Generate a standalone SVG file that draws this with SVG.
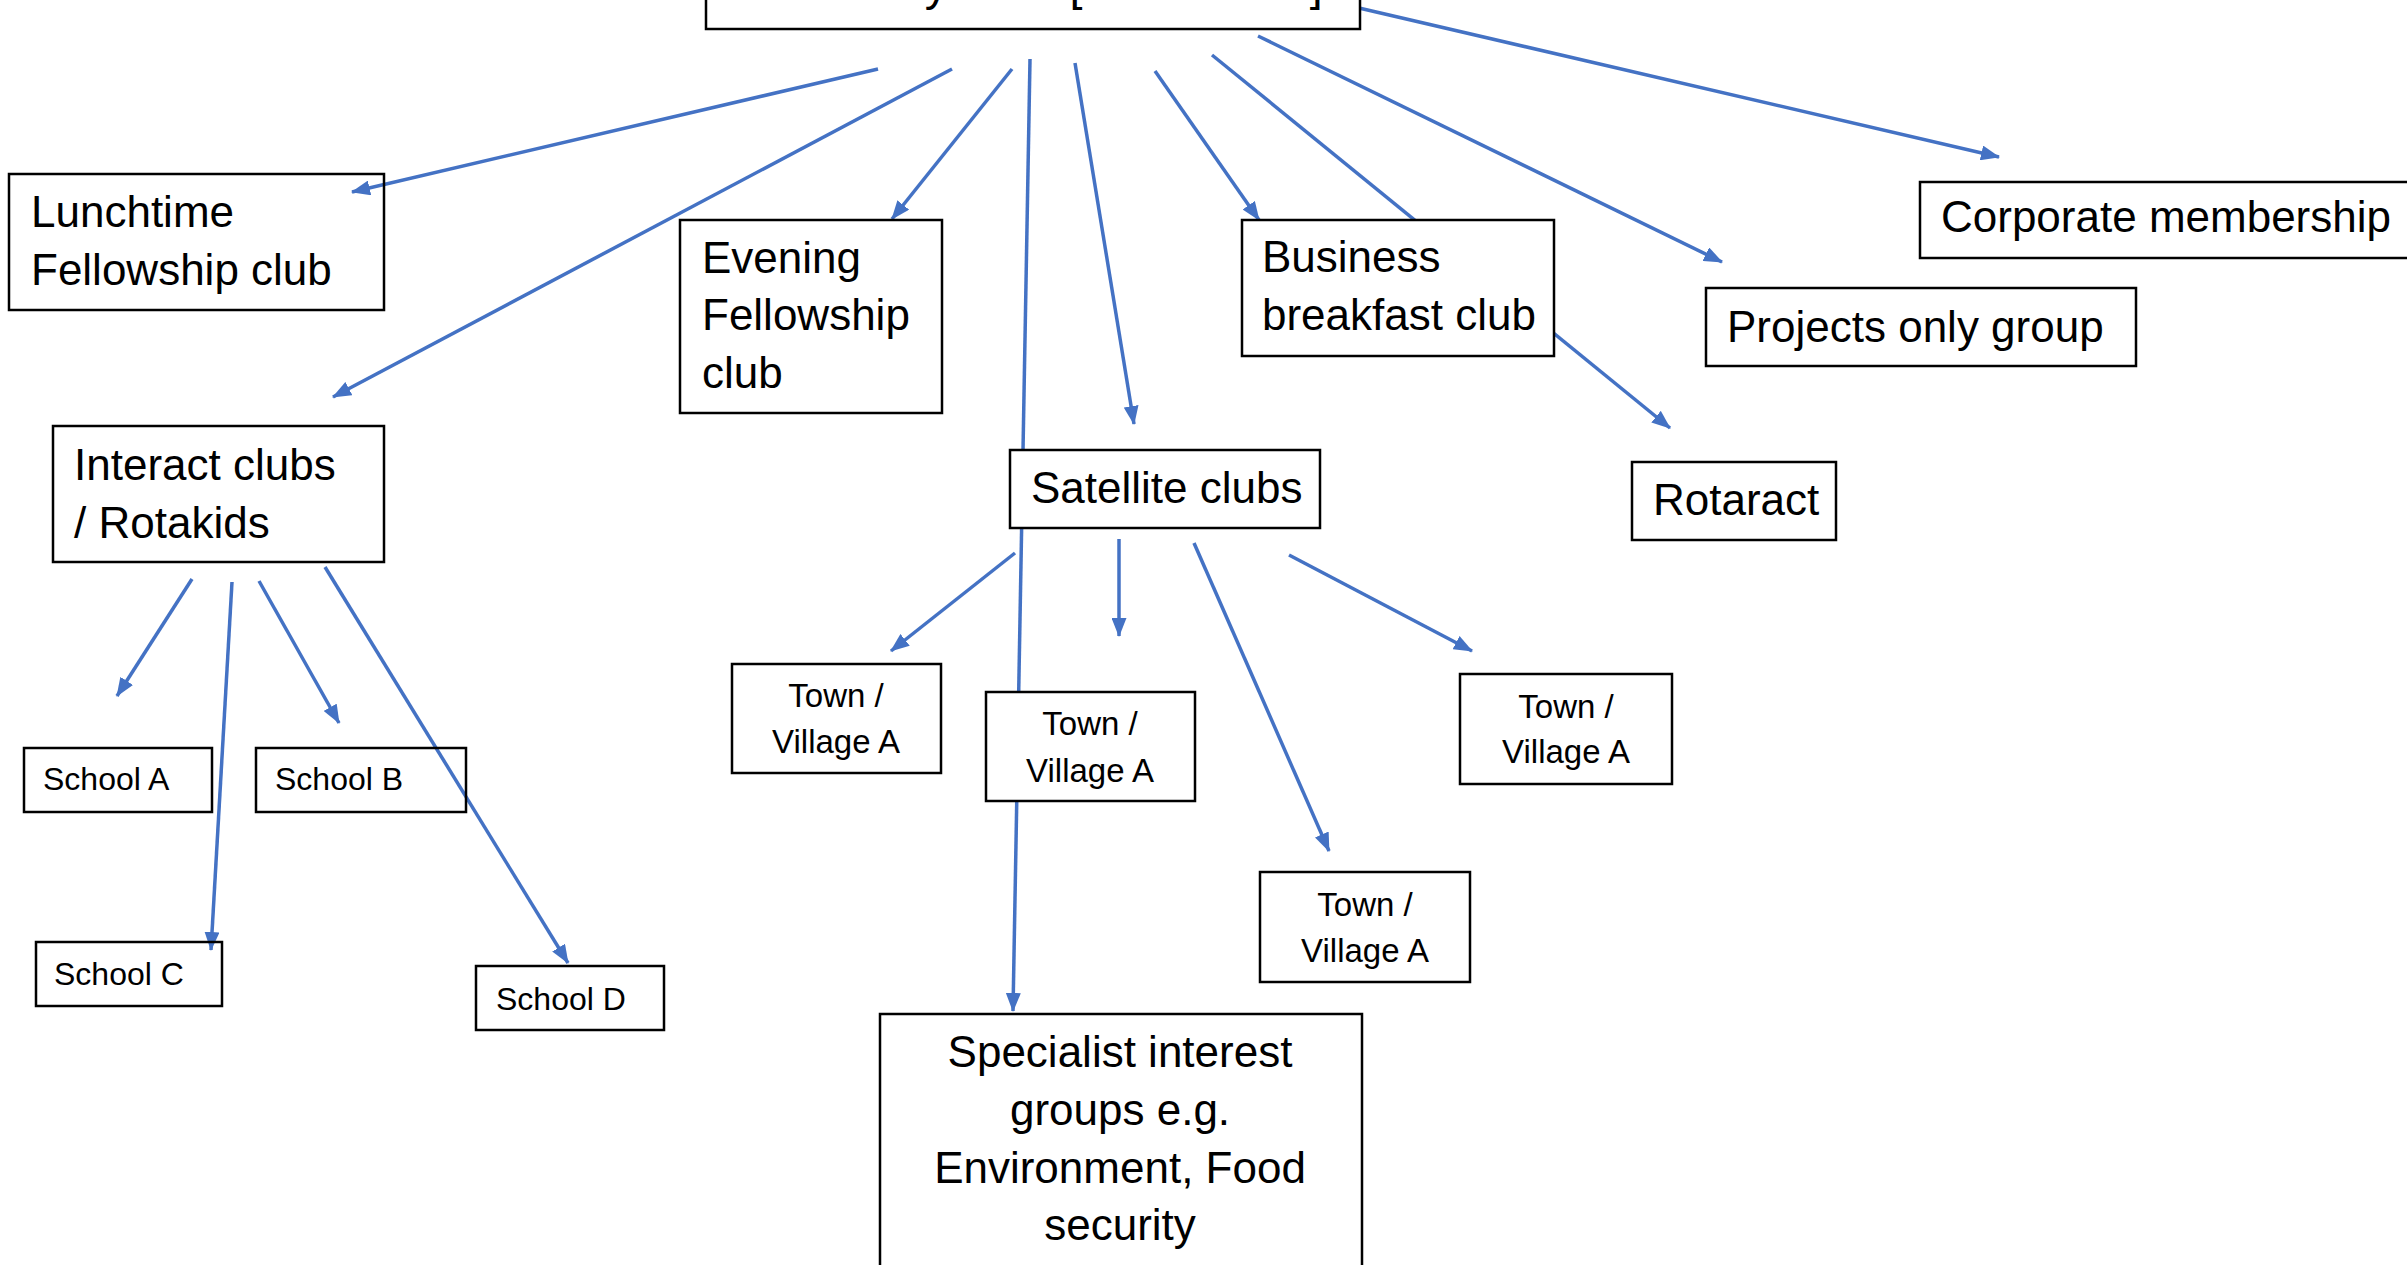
<svg xmlns="http://www.w3.org/2000/svg" width="2407" height="1265" viewBox="0 0 2407 1265">
<style>
.bg{fill:#ffffff}
.box{fill:#ffffff;stroke:#000000;stroke-width:2.5}
.clear{fill:none}
.t{font-family:"Liberation Sans",Arial,sans-serif;font-size:44px;fill:#000000}
.s{font-size:33px}
.sc{font-size:32px}
.mid{text-anchor:middle}
.c{stroke:#4472C4;stroke-width:3.5;fill:none;marker-end:url(#ah)}
</style>
<defs>
<marker id="ah" markerUnits="userSpaceOnUse" markerWidth="19" markerHeight="15" refX="18" refY="7.5" orient="auto">
<path d="M0,0 L19,7.5 L0,15 Z" fill="#4472C4"/>
</marker>
</defs>
<rect class="bg" x="0" y="0" width="2407" height="1265"/>
<g id="connectors">
<line class="c" x1="878" y1="69" x2="352" y2="192"/>
<line class="c" x1="952" y1="69" x2="333" y2="397"/>
<line class="c" x1="1012" y1="69" x2="892" y2="219"/>
<line class="c" x1="1030" y1="59" x2="1013" y2="1011"/>
<line class="c" x1="1075" y1="63" x2="1134" y2="424"/>
<line class="c" x1="1155" y1="71" x2="1259" y2="220"/>
<line class="c" x1="1212" y1="55" x2="1670" y2="428"/>
<line class="c" x1="1258" y1="36" x2="1722" y2="262"/>
<line class="c" x1="1359" y1="8" x2="1999" y2="157"/>
<line class="c" x1="192" y1="579" x2="117" y2="696"/>
<line class="c" x1="232" y1="582" x2="211" y2="950"/>
<line class="c" x1="259" y1="581" x2="339" y2="723"/>
<line class="c" x1="325" y1="567" x2="568" y2="963"/>
<line class="c" x1="1015" y1="553" x2="891" y2="651"/>
<line class="c" x1="1119" y1="539" x2="1119" y2="636"/>
<line class="c" x1="1194" y1="543" x2="1329" y2="851"/>
<line class="c" x1="1289" y1="555" x2="1472" y2="651"/>
</g>
<g id="nodes">
<g id="main"><rect class="box" x="706" y="-60" width="654" height="89"/><text class="t" x="811" y="0" style="font-size:46.5px">Rotary Club [town name]</text></g>
<g id="lunchtime"><rect class="box clear" x="9" y="174" width="375" height="136"/><text class="t" x="31" y="227">Lunchtime</text><text class="t" x="31" y="285">Fellowship club</text></g>
<g id="interact"><rect class="box" x="53" y="426" width="331" height="136"/><text class="t" x="74" y="480">Interact clubs</text><text class="t" x="74" y="538">/ Rotakids</text></g>
<g id="evening"><rect class="box" x="680" y="220" width="262" height="193"/><text class="t" x="702" y="273">Evening</text><text class="t" x="702" y="330">Fellowship</text><text class="t" x="702" y="388">club</text></g>
<g id="business"><rect class="box" x="1242" y="220" width="312" height="136"/><text class="t" x="1262" y="272">Business</text><text class="t" x="1262" y="330">breakfast club</text></g>
<g id="corporate"><rect class="box" x="1920" y="182" width="520" height="76"/><text class="t" x="1941" y="232">Corporate membership</text></g>
<g id="projects"><rect class="box" x="1706" y="288" width="430" height="78"/><text class="t" x="1727" y="342">Projects only group</text></g>
<g id="satellite"><rect class="box" x="1010" y="450" width="310" height="78"/><text class="t" x="1031" y="503">Satellite clubs</text></g>
<g id="rotaract"><rect class="box" x="1632" y="462" width="204" height="78"/><text class="t" x="1653" y="515">Rotaract</text></g>
<g id="town1"><rect class="box" x="732" y="664" width="209" height="109"/><text class="t s mid" x="836" y="707">Town /</text><text class="t s mid" x="836" y="753">Village A</text></g>
<g id="town2"><rect class="box" x="986" y="692" width="209" height="109"/><text class="t s mid" x="1090" y="735">Town /</text><text class="t s mid" x="1090" y="782">Village A</text></g>
<g id="town3"><rect class="box" x="1460" y="674" width="212" height="110"/><text class="t s mid" x="1566" y="718">Town /</text><text class="t s mid" x="1566" y="763">Village A</text></g>
<g id="town4"><rect class="box" x="1260" y="872" width="210" height="110"/><text class="t s mid" x="1365" y="916">Town /</text><text class="t s mid" x="1365" y="962">Village A</text></g>
<g id="schoolA"><rect class="box" x="24" y="748" width="188" height="64"/><text class="t sc" x="43" y="790">School A</text></g>
<g id="schoolB"><rect class="box clear" x="256" y="748" width="210" height="64"/><text class="t sc" x="275" y="790">School B</text></g>
<g id="schoolC"><rect class="box clear" x="36" y="942" width="186" height="64"/><text class="t sc" x="54" y="985">School C</text></g>
<g id="schoolD"><rect class="box" x="476" y="966" width="188" height="64"/><text class="t sc" x="496" y="1010">School D</text></g>
<g id="specialist"><rect class="box" x="880" y="1014" width="482" height="300"/><text class="t mid" x="1120" y="1067">Specialist interest</text><text class="t mid" x="1120" y="1125">groups e.g.</text><text class="t mid" x="1120" y="1183">Environment, Food</text><text class="t mid" x="1120" y="1240">security</text></g>
</g>
</svg>
